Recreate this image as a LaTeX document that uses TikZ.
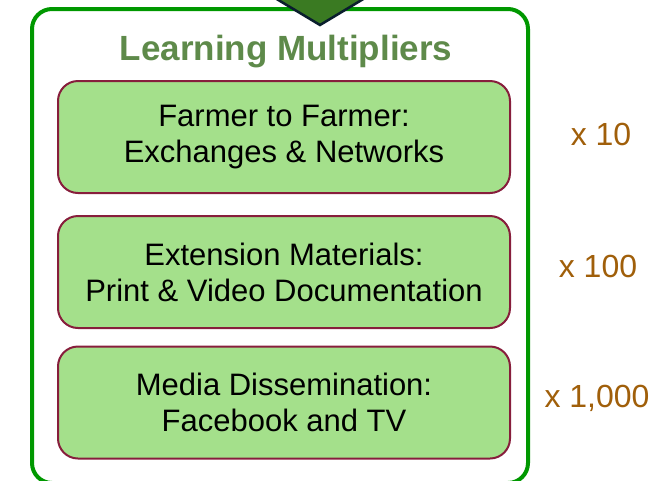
\documentclass[tikz,border=0pt]{standalone}
\usepackage{fontspec}
\setmainfont{Liberation Sans}
\usetikzlibrary{positioning}

\definecolor{framegreen}{RGB}{0,152,0}
\definecolor{titlegreen}{RGB}{94,138,74}
\definecolor{boxfill}{RGB}{164,224,139}
\definecolor{boxline}{RGB}{135,30,60}
\definecolor{multbrown}{RGB}{160,95,10}
\definecolor{arrowgreen}{RGB}{58,122,34}
\definecolor{arrowline}{RGB}{10,30,45}

\begin{document}
\begin{tikzpicture}[x=1pt,y=-1pt,
  stage/.style={draw=boxline,line width=2pt,fill=boxfill,rounded corners=20pt,
    minimum width=452pt,minimum height=112pt,inner sep=0pt,align=center,
    font=\fontsize{31}{36}\selectfont},
  factor/.style={text=multbrown,anchor=base,font=\fontsize{32}{36}\selectfont}]
\useasboundingbox (0,0) rectangle (656,480);

% cadre
\draw[framegreen,line width=4pt,rounded corners=20pt] (32,9) rectangle (528,483);

% fleche du haut
\draw[arrowline,fill=arrowgreen,line width=2.5pt] (265,-8) -- (320,25) -- (375,-8);

% titre
\node[text=titlegreen,anchor=base,font=\bfseries\fontsize{35}{40}\selectfont] (title) at (286,60) {Learning Multipliers};

% les trois niveaux
\node[stage] (farmer)    at (284,137)   {Farmer to Farmer:\\Exchanges \& Networks};
\node[stage] (extension) at (284,272)   {Extension Materials:\\Print \& Video Documentation};
\node[stage] (media)     at (284,402.5) {Media Dissemination:\\Facebook and TV};

% facteurs
\node[factor] (x10)   at (601,145) {x 10};
\node[factor] (x100)  at (598,277) {x 100};
\node[factor] (x1000) at (597,407) {x 1,000};

\end{tikzpicture}
\end{document}
